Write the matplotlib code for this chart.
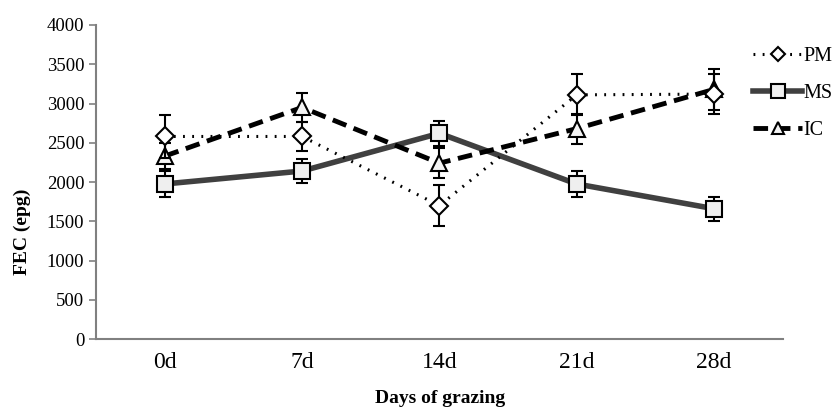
import matplotlib
matplotlib.use("Agg")
import matplotlib.pyplot as plt
from matplotlib.lines import Line2D
import numpy as np

days = ["0d", "7d", "14d", "21d", "28d"]
pm = [2580, 2580, 1700, 3110, 3120]
pm_err = [270, 190, 260, 260, 260]
ms = [1975, 2140, 2620, 1975, 1660]
ms_err = [165, 150, 160, 165, 155]
ic = [2330, 2950, 2240, 2680, 3180]
ic_err = [170, 180, 190, 190, 260]

plt.rcParams['font.family'] = ['Liberation Serif', 'DejaVu Serif']

fig = plt.figure(figsize=(8.38, 4.07), dpi=100)
ax = fig.add_axes([0.1146, 0.167, 0.8194, 0.7716])
x = np.arange(len(days))

styles = {
    'MS': dict(color='#404040', lw=4, ls='-', marker='s', ms=12, mfc='#efefef'),
    'IC': dict(color='black', lw=3.5, ls=(0, (3, 1.6)), marker='^', ms=11, mfc='#f4f4f4'),
    'PM': dict(color='black', lw=2.2, ls=(0, (0.6, 2.4)), marker='D', ms=9, mfc='white'),
}
data = {'MS': (ms, ms_err, 3), 'IC': (ic, ic_err, 4), 'PM': (pm, pm_err, 5)}

for name in ['MS', 'IC', 'PM']:
    vals, errs, z = data[name]
    st = styles[name]
    ax.errorbar(x, vals, yerr=errs, fmt='none', ecolor='black', elinewidth=1.5,
                capsize=4.5, capthick=1.5, zorder=z)
    ax.plot(x, vals, mec='black', mew=1.5, zorder=z + 0.5, **st)

ax.set_xlim(-0.5, 4.5)
ax.set_ylim(0, 4000)
ax.set_yticks(np.arange(0, 4001, 500))
ax.set_xticks(x)
ax.set_xticklabels(days, fontsize=17)
ax.tick_params(axis='y', labelsize=13.5, direction='out', length=5, color='#808080', width=1.2)
ax.tick_params(axis='x', length=0, pad=9)
for s in ['top', 'right']:
    ax.spines[s].set_visible(False)
for s in ['left', 'bottom']:
    ax.spines[s].set_color('#808080')
    ax.spines[s].set_linewidth(1.5)

fig.text(0.027, 0.43, 'FEC (epg)', rotation=90, ha='center', va='center',
         fontsize=14, fontweight='bold')
fig.text(0.525, 0.022, 'Days of grazing', ha='center', va='center',
         fontsize=14, fontweight='bold')

handles = []
labels = ['PM', 'MS', 'IC']
for name in labels:
    st = dict(styles[name])
    st['ms'] = st['ms'] * 0.8
    handles.append(Line2D([], [], mec='black', mew=1.5, **st))
leg = fig.legend(handles, labels, loc='upper left',
                 bbox_to_anchor=(0.899, 0.885), frameon=False, fontsize=14.5,
                 handlelength=2.4, handletextpad=0.1, labelspacing=0.9, borderpad=0,
                 borderaxespad=0)

fig.savefig('out.png', dpi=100)
